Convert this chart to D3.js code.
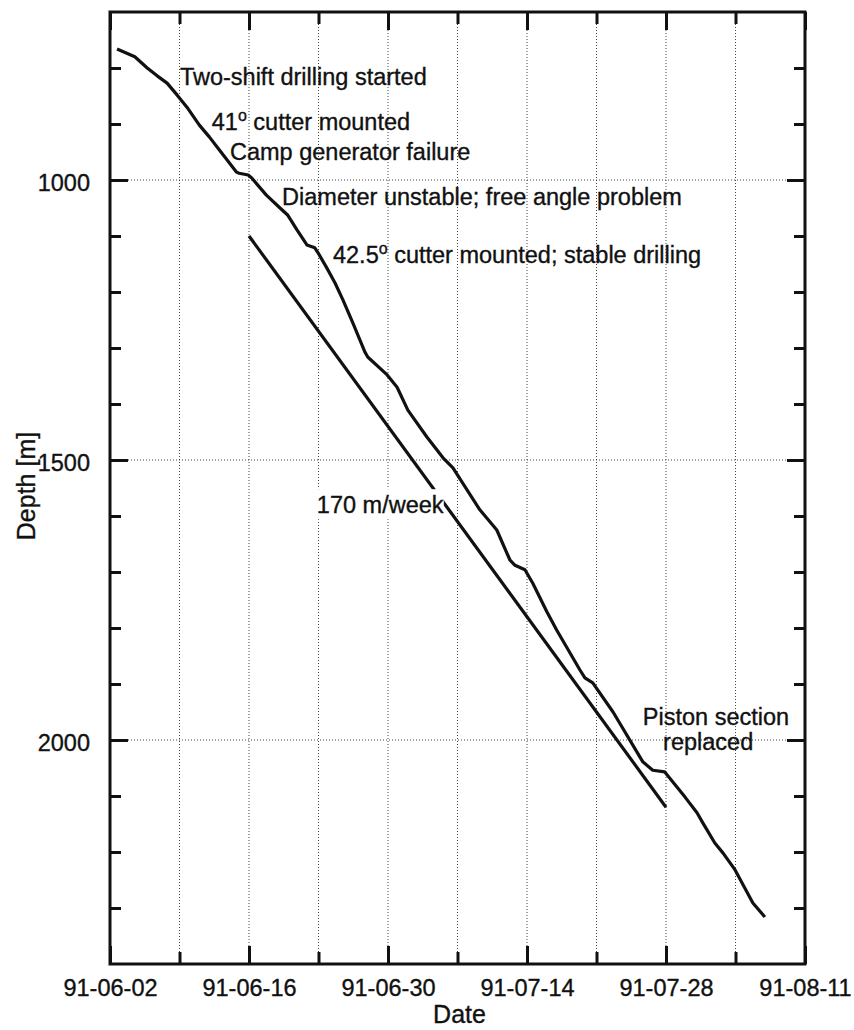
<!DOCTYPE html>
<html>
<head>
<meta charset="utf-8">
<script src="https://cdn.jsdelivr.net/npm/d3@7"></script>
<style>
body { margin: 0; background: #fff; }
svg text { font-family: "Liberation Sans", Arial, Helvetica, sans-serif; fill: #111; stroke: #111; stroke-width: 0.35px; }
</style>
</head>
<body>
<div id="chart"></div>
<script>
'use strict';

//drilling progress (date, depth in m)
var drillDates = [
    '1991-06-02T17', '1991-06-04T12', '1991-06-05T18', '1991-06-06T18', '1991-06-07T18',
    '1991-06-08T18', '1991-06-09T18', '1991-06-11T00', '1991-06-12T00', '1991-06-13T00',
    '1991-06-14T18', '1991-06-15T00', '1991-06-15T22', '1991-06-16T06', '1991-06-17T18',
    '1991-06-19T03', '1991-06-19T22', '1991-06-20T20', '1991-06-21T20', '1991-06-22T15',
    '1991-06-22T23', '1991-06-23T20', '1991-06-24T16', '1991-06-25T11', '1991-06-26T11',
    '1991-06-27T16', '1991-06-27T23', '1991-06-29T22', '1991-06-30T22', '1991-07-02T00',
    '1991-07-03T22', '1991-07-05T13', '1991-07-06T13', '1991-07-09T06', '1991-07-10T23',
    '1991-07-12T07', '1991-07-12T19', '1991-07-13T19', '1991-07-14T14', '1991-07-16T00',
    '1991-07-17T00', '1991-07-19T08', '1991-07-19T20', '1991-07-20T15', '1991-07-22T16',
    '1991-07-25T16', '1991-07-26T16', '1991-07-27T21', '1991-07-29T22', '1991-07-31T03',
    '1991-07-31T17', '1991-08-01T22', '1991-08-02T18', '1991-08-03T23', '1991-08-05T18',
    '1991-08-06T23'
];
var drillDepths = [
    766, 780, 800, 814, 827,
    848, 870, 902, 923, 946,
    986, 988, 991, 996, 1027,
    1050, 1063, 1089, 1116, 1121,
    1130, 1157, 1184, 1214, 1255,
    1307, 1316, 1348, 1370, 1411,
    1459, 1496, 1514, 1589, 1625,
    1679, 1688, 1696, 1720, 1771,
    1804, 1875, 1889, 1898, 1950,
    2039, 2054, 2057, 2102, 2130,
    2148, 2184, 2202, 2232, 2291,
    2316
];

//170 m/week reference
var rateDates = ['1991-06-16T00', '1991-07-28T00'];
var rateDepths = [1100, 2120];

//ticks
var majorDates = ['1991-06-02T00', '1991-06-16T00', '1991-06-30T00', '1991-07-14T00', '1991-07-28T00', '1991-08-11T00'];
var minorDates = ['1991-06-09T00', '1991-06-23T00', '1991-07-07T00', '1991-07-21T00', '1991-08-04T00'];
var majorDepths = [1000, 1500, 2000];
var minorDepths = [800, 900, 1100, 1200, 1300, 1400, 1600, 1700, 1800, 1900, 2100, 2200, 2300];

//annotations ('^' marks a superscript letter)
var noteTexts = [
    'Two-shift drilling started',
    '41^o cutter mounted',
    'Camp generator failure',
    'Diameter unstable; free angle problem',
    '42.5^o cutter mounted; stable drilling',
    'Piston section',
    'replaced'
];
var noteDates = ['1991-06-09T01', '1991-06-12T06', '1991-06-14T02', '1991-06-19T08', '1991-06-24T11', '1991-07-25T16', '1991-07-27T17'];
var noteDepths = [830, 911, 964, 1045, 1148, 1973, 2018];

var rateLabel = '170 m/week';
var rateLabelDate = '1991-06-22T20';
var rateLabelDepth = 1595;

var parse = d3.timeParse('%Y-%m-%dT%H');
var W = 854, H = 1030;
var fontSize = 23.5;

var x = d3.scaleTime()
    .domain([parse('1991-06-02T00'), parse('1991-08-11T00')])
    .range([110, 805]);
var y = d3.scaleLinear()
    .domain([700, 2400])
    .range([12, 964]);

var svg = d3.select('#chart').append('svg')
    .attr('width', W)
    .attr('height', H);

//dotted grid
var grid = svg.append('g').attr('class', 'grid')
    .style('stroke', '#444')
    .style('stroke-width', 1)
    .style('stroke-dasharray', '1,2');
var gridDates = majorDates.concat(minorDates).map(parse).filter(function (d) {
    return x(d) > x.range()[0] + 1 && x(d) < x.range()[1] - 1;
});
grid.selectAll('.vg').data(gridDates).enter().append('line')
    .attr('x1', x).attr('x2', x)
    .attr('y1', y.range()[0]).attr('y2', y.range()[1]);
grid.selectAll('.hg').data(majorDepths).enter().append('line')
    .attr('x1', x.range()[0]).attr('x2', x.range()[1])
    .attr('y1', y).attr('y2', y);

//axes, ticks pointing inward
function styleAxis(g) {
    g.attr('font-family', null).attr('font-size', null);
    g.select('.domain').remove();
    g.selectAll('.tick line').style('stroke', '#111').style('stroke-width', 3);
    g.selectAll('.tick text').style('font-size', fontSize + 'px');
}

var fmt = d3.timeFormat('%y-%m-%d');

svg.append('g').attr('transform', 'translate(0,' + y.range()[1] + ')')
    .call(d3.axisBottom(x).tickValues(majorDates.map(parse)).tickSize(-18).tickPadding(15).tickFormat(fmt))
    .call(styleAxis);
svg.append('g').attr('transform', 'translate(0,' + y.range()[1] + ')')
    .call(d3.axisBottom(x).tickValues(minorDates.map(parse)).tickSize(-12).tickFormat(''))
    .call(styleAxis);
svg.append('g').attr('transform', 'translate(0,' + y.range()[0] + ')')
    .call(d3.axisTop(x).tickValues(majorDates.map(parse)).tickSize(-18).tickFormat(''))
    .call(styleAxis);
svg.append('g').attr('transform', 'translate(0,' + y.range()[0] + ')')
    .call(d3.axisTop(x).tickValues(minorDates.map(parse)).tickSize(-12).tickFormat(''))
    .call(styleAxis);

svg.append('g').attr('transform', 'translate(' + x.range()[0] + ',0)')
    .call(d3.axisLeft(y).tickValues(majorDepths).tickSize(-18).tickPadding(20).tickFormat(d3.format('d')))
    .call(styleAxis)
    .selectAll('.tick text').attr('dy', '0.45em');
svg.append('g').attr('transform', 'translate(' + x.range()[0] + ',0)')
    .call(d3.axisLeft(y).tickValues(minorDepths).tickSize(-11).tickFormat(''))
    .call(styleAxis);
svg.append('g').attr('transform', 'translate(' + x.range()[1] + ',0)')
    .call(d3.axisRight(y).tickValues(majorDepths).tickSize(-18).tickFormat(''))
    .call(styleAxis);
svg.append('g').attr('transform', 'translate(' + x.range()[1] + ',0)')
    .call(d3.axisRight(y).tickValues(minorDepths).tickSize(-11).tickFormat(''))
    .call(styleAxis);

//axis titles
svg.append('text')
    .attr('x', (x.range()[0] + x.range()[1]) / 2 + 2)
    .attr('y', 1023)
    .attr('text-anchor', 'middle')
    .style('font-size', '25px')
    .text('Date');
svg.append('text')
    .attr('transform', 'translate(35,' + ((y.range()[0] + y.range()[1]) / 2 - 2) + ') rotate(-90)')
    .attr('text-anchor', 'middle')
    .style('font-size', '25px')
    .text('Depth [m]');

//lines
var line = d3.line()
    .x(function (d) { return x(d[0]); })
    .y(function (d) { return y(d[1]); });

var rateData = rateDates.map(function (d, i) { return [parse(d), rateDepths[i]]; });
svg.append('path')
    .datum(rateData)
    .attr('d', line)
    .style('fill', 'none')
    .style('stroke', '#111')
    .style('stroke-width', 3.2);

//rate label sits on a white patch that cuts the line
var rl = svg.append('g');
var rlText = rl.append('text')
    .attr('x', x(parse(rateLabelDate)))
    .attr('y', y(rateLabelDepth))
    .style('font-size', fontSize + 'px')
    .text(rateLabel);
var bb = rlText.node().getBBox();
rl.insert('rect', 'text')
    .attr('x', bb.x - 3)
    .attr('y', bb.y - 3)
    .attr('width', bb.width + 3)
    .attr('height', bb.height + 4)
    .style('fill', '#fff');

var drillData = drillDates.map(function (d, i) { return [parse(d), drillDepths[i]]; });
svg.append('path')
    .datum(drillData)
    .attr('d', line)
    .style('fill', 'none')
    .style('stroke', '#111')
    .style('stroke-width', 3.2)
    .style('stroke-linejoin', 'round');

//event notes
noteTexts.forEach(function (t, i) {
    var txt = svg.append('text')
        .attr('x', x(parse(noteDates[i])))
        .attr('y', y(noteDepths[i]))
        .style('font-size', fontSize + 'px');
    var parts = t.split('^');
    txt.append('tspan').text(parts[0]);
    if (parts.length > 1) {
        txt.append('tspan')
            .attr('dy', -9)
            .style('font-size', '16px')
            .text(parts[1].charAt(0));
        txt.append('tspan')
            .attr('dy', 9)
            .text(parts[1].slice(1));
    }
});

//frame
svg.append('rect')
    .attr('x', x.range()[0])
    .attr('y', y.range()[0])
    .attr('width', x.range()[1] - x.range()[0])
    .attr('height', y.range()[1] - y.range()[0])
    .style('fill', 'none')
    .style('stroke', '#111')
    .style('stroke-width', 3);
</script>
</body>
</html>
